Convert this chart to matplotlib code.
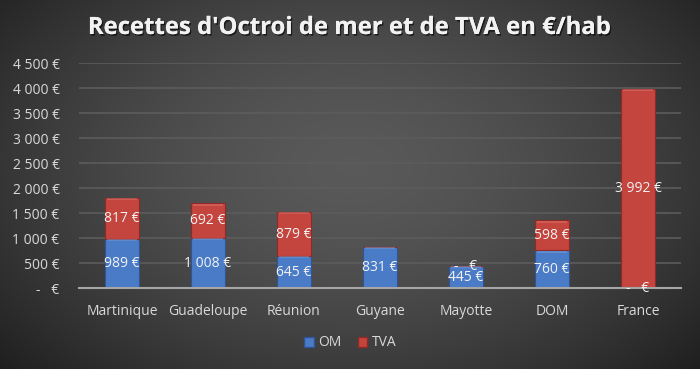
import matplotlib
matplotlib.use("Agg")
import matplotlib.pyplot as plt
import matplotlib.patheffects as pe
import numpy as np
from matplotlib.patches import Patch

categories = ["Martinique", "Guadeloupe", "Réunion", "Guyane", "Mayotte", "DOM", "France"]
om_values = [989, 1008, 645, 831, 445, 760, 0]
tva_values = [817, 692, 879, None, 0, 598, 3992]
yticks = [0, 500, 1000, 1500, 2000, 2500, 3000, 3500, 4000, 4500]
title = "Recettes d'Octroi de mer et de TVA en €/hab"

plt.rcParams['font.family'] = ['Open Sans', 'DejaVu Sans']

def fmt(v):
    if v == 0:
        return "-   €"
    return f"{v:,}".replace(",", " ") + " €"

W, H = 700, 369
fig = plt.figure(figsize=(W / 100, H / 100), dpi=100)

# background radial gradient
bg = fig.add_axes([0, 0, 1, 1], zorder=-10)
yy, xx = np.mgrid[0:H, 0:W]
dx = (xx - W * 0.5) / (W * 0.62)
dy = (yy - H * 0.45) / (H * 0.75)
r = np.sqrt(dx ** 2 + dy ** 2)
val = np.clip(0.35 - 0.2 * r ** 1.6, 0.12, 0.37)
img = np.dstack([val, val, val])
bg.imshow(img, aspect='auto', extent=[0, 1, 0, 1])
bg.axis('off')

ax = fig.add_axes([79 / W, 1 - 288.3 / H, (681 - 79) / W, (288.3 - 63.3) / H])
ax.patch.set_alpha(0)

x = np.arange(len(categories))
w = 0.39
blue = "#4a7bc6"
red = "#c4443e"
om = np.array(om_values, dtype=float)
tva = np.array([0 if v is None else v for v in tva_values], dtype=float)

ax.bar(x, om, width=w, color=blue, edgecolor="#2f5597", linewidth=0.8, zorder=3)
ax.bar(x, tva, width=w, bottom=om, color=red, edgecolor="#8e2b27", linewidth=0.8, zorder=3)
# bevel highlight at top of segments
ax.bar(x, np.where(om > 0, 40, 0), width=w * 0.92, bottom=om - 45, color="#7ea4dc", alpha=0.45, linewidth=0, zorder=4)
ax.bar(x, np.where(tva > 0, 40, 0), width=w * 0.92, bottom=om + tva - 45, color="#e07a74", alpha=0.45, linewidth=0, zorder=4)

lab_kw = dict(ha='center', va='center', color='#f2f2f2', fontsize=10, zorder=6)
for i in range(len(categories)):
    ax.text(x[i], om[i] / 2, fmt(om_values[i]), **lab_kw)
    if tva_values[i] is not None:
        ax.text(x[i], om[i] + tva[i] / 2, fmt(tva_values[i]), **lab_kw)

ax.set_xlim(-0.5, len(categories) - 0.5)
ax.set_ylim(0, 4500)
ax.set_yticks(yticks)
ax.set_yticklabels([fmt(v) for v in yticks])
ax.set_xticks(x)
ax.set_xticklabels(categories)
ax.tick_params(axis='both', length=0, colors='#d9d9d9', labelsize=10)
ax.tick_params(axis='y', pad=14)
ax.tick_params(axis='x', pad=11)
ax.yaxis.grid(True, color='#5c5c5c', linewidth=1.2, zorder=0)
ax.set_axisbelow(True)
for s in ['top', 'right', 'left']:
    ax.spines[s].set_visible(False)
ax.spines['bottom'].set_color('#a6a6a6')
ax.spines['bottom'].set_linewidth(1.5)
ax.spines['bottom'].set_zorder(5)

fig.text(0.5, 1 - 28 / H, title, ha='center', va='center', color='#f2f2f2',
         fontsize=17.2, fontweight='bold',
         path_effects=[pe.withSimplePatchShadow(offset=(1, -1.2), shadow_rgbFace='black', alpha=0.6), pe.Normal()])

handles = [Patch(facecolor=blue, edgecolor="#2f5597"), Patch(facecolor=red, edgecolor="#8e2b27")]
leg = fig.legend(handles, ["OM", "TVA"], loc='center', bbox_to_anchor=(0.5, 1 - 343 / H),
                 ncol=2, frameon=False, fontsize=10, labelcolor='#d9d9d9',
                 handlelength=0.7, handleheight=0.7, handletextpad=0.3, columnspacing=1.2)

fig.savefig("out.png", dpi=100)
